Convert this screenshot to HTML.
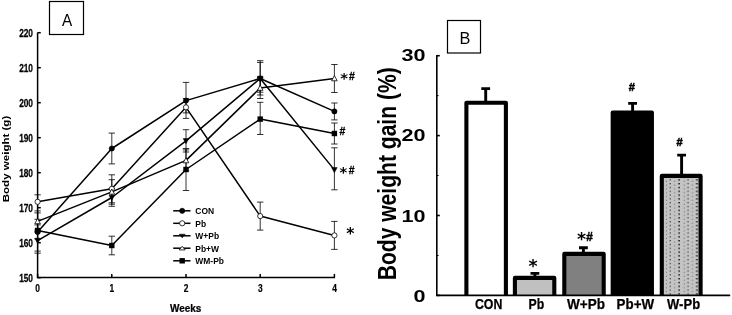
<!DOCTYPE html><html><head><meta charset="utf-8"><title>Figure</title><style>html,body{margin:0;padding:0;background:#fff}svg{display:block}text{font-family:"Liberation Sans","DejaVu Sans",sans-serif;fill:#000}text.st{font-family:"DejaVu Sans",sans-serif}</style></head><body>
<svg width="732" height="315" viewBox="0 0 732 315">
<rect width="732" height="315" fill="#fff"/>
<g stroke="#000" stroke-width="1.5" fill="none">
<path d="M37.6 32.39999999999999V277.5H335.00000000000006"/>
<path d="M37.6 277.7h3.2"/>
<path d="M37.6 242.7h3.2"/>
<path d="M37.6 207.7h3.2"/>
<path d="M37.6 172.7h3.2"/>
<path d="M37.6 137.7h3.2"/>
<path d="M37.6 102.69999999999999h3.2"/>
<path d="M37.6 67.69999999999999h3.2"/>
<path d="M37.6 32.69999999999999h3.2"/>
<path d="M37.6 277.7v-3.8"/>
<path d="M111.80000000000001 277.7v-3.8"/>
<path d="M186.0 277.7v-3.8"/>
<path d="M260.20000000000005 277.7v-3.8"/>
<path d="M334.40000000000003 277.7v-3.8"/>
</g>
<g font-size="10.4" font-weight="bold" text-anchor="end" stroke="#000" stroke-width="0.25">
<text transform="translate(33,281.7) scale(0.8,1)">150</text>
<text transform="translate(33,246.7) scale(0.8,1)">160</text>
<text transform="translate(33,211.7) scale(0.8,1)">170</text>
<text transform="translate(33,176.7) scale(0.8,1)">180</text>
<text transform="translate(33,141.7) scale(0.8,1)">190</text>
<text transform="translate(33,106.7) scale(0.8,1)">200</text>
<text transform="translate(33,71.7) scale(0.8,1)">210</text>
<text transform="translate(33,36.7) scale(0.8,1)">220</text>
</g>
<g font-size="10.5" font-weight="bold" text-anchor="middle" stroke="#000" stroke-width="0.2">
<text transform="translate(37.7,291.9) scale(0.8,1)">0</text>
<text transform="translate(111.9,291.9) scale(0.8,1)">1</text>
<text transform="translate(186.1,291.9) scale(0.8,1)">2</text>
<text transform="translate(260.3,291.9) scale(0.8,1)">3</text>
<text transform="translate(334.5,291.9) scale(0.8,1)">4</text>
</g>
<text transform="translate(185.7,312.4) scale(0.9,1)" font-size="11.1" font-weight="bold" text-anchor="middle" stroke="#000" stroke-width="0.25">Weeks</text>
<text transform="translate(8.8,159) rotate(-90) scale(1.36,1)" font-size="8.5" font-weight="bold" text-anchor="middle">Body weight (g)</text>
<g stroke="#000" stroke-width="0.8" fill="none">
<path d="M37.6 224.9V238.9M34.4 224.9h6.4M34.4 238.9h6.4"/>
<path d="M111.8 133.1V163.9M108.6 133.1h6.4M108.6 163.9h6.4"/>
<path d="M186.0 82.4V112.9M182.8 82.4h6.4M182.8 112.9h6.4"/>
<path d="M260.2 60.7V92.2M257.0 60.7h6.4M257.0 92.2h6.4"/>
<path d="M334.4 103.0V119.9M331.2 103.0h6.4M331.2 119.9h6.4"/>
<path d="M37.6 194.8V219.3M34.4 194.8h6.4M34.4 219.3h6.4"/>
<path d="M111.8 174.8V202.8M108.6 174.8h6.4M108.6 202.8h6.4"/>
<path d="M186.0 98.5V118.4M182.8 98.5h6.4M182.8 118.4h6.4"/>
<path d="M260.2 202.1V230.1M257.0 202.1h6.4M257.0 230.1h6.4"/>
<path d="M334.4 221.4V249.4M331.2 221.4h6.4M331.2 249.4h6.4"/>
<path d="M37.6 230.1V251.1M34.4 230.1h6.4M34.4 251.1h6.4"/>
<path d="M111.8 188.8V206.3M108.6 188.8h6.4M108.6 206.3h6.4"/>
<path d="M186.0 129.7V152.0M182.8 129.7h6.4M182.8 152.0h6.4"/>
<path d="M260.2 62.4V95.0M257.0 62.4h6.4M257.0 95.0h6.4"/>
<path d="M334.4 147.8V189.8M331.2 147.8h6.4M331.2 189.8h6.4"/>
<path d="M37.6 210.9V231.9M34.4 210.9h6.4M34.4 231.9h6.4"/>
<path d="M111.8 179.7V204.2M108.6 179.7h6.4M108.6 204.2h6.4"/>
<path d="M186.0 149.9V170.9M182.8 149.9h6.4M182.8 170.9h6.4"/>
<path d="M260.2 77.5V98.5M257.0 77.5h6.4M257.0 98.5h6.4"/>
<path d="M334.4 64.5V92.5M331.2 64.5h6.4M331.2 92.5h6.4"/>
<path d="M37.6 212.9V253.2M34.4 212.9h6.4M34.4 253.2h6.4"/>
<path d="M111.8 236.2V254.8M108.6 236.2h6.4M108.6 254.8h6.4"/>
<path d="M186.0 148.5V190.5M182.8 148.5h6.4M182.8 190.5h6.4"/>
<path d="M260.2 102.3V134.5M257.0 102.3h6.4M257.0 134.5h6.4"/>
<path d="M334.4 123.0V144.0M331.2 123.0h6.4M331.2 144.0h6.4"/>
</g>
<g stroke="#000" stroke-width="1.5" fill="none" stroke-linejoin="round">
<polyline points="37.6,231.9 111.8,148.5 186.0,100.6 260.2,78.5 334.4,111.4"/>
<polyline points="37.6,201.8 111.8,188.8 186.0,107.3 260.2,216.1 334.4,235.4"/>
<polyline points="37.6,240.6 111.8,197.5 186.0,140.9 260.2,78.5 334.4,169.9"/>
<polyline points="37.6,221.4 111.8,191.9 186.0,160.4 260.2,88.0 334.4,78.5"/>
<polyline points="37.6,230.4 111.8,245.5 186.0,169.5 260.2,119.1 334.4,133.5"/>
</g>
<circle cx="37.6" cy="231.9" r="2.60" fill="#000" stroke="#000" stroke-width="0.6"/>
<circle cx="111.8" cy="148.5" r="2.60" fill="#000" stroke="#000" stroke-width="0.6"/>
<circle cx="186.0" cy="100.6" r="2.60" fill="#000" stroke="#000" stroke-width="0.6"/>
<circle cx="260.2" cy="78.5" r="2.60" fill="#000" stroke="#000" stroke-width="0.6"/>
<circle cx="334.4" cy="111.4" r="2.60" fill="#000" stroke="#000" stroke-width="0.6"/>
<circle cx="37.6" cy="201.8" r="2.60" fill="#fff" stroke="#000" stroke-width="0.8"/>
<circle cx="111.8" cy="188.8" r="2.60" fill="#fff" stroke="#000" stroke-width="0.8"/>
<circle cx="186.0" cy="107.3" r="2.60" fill="#fff" stroke="#000" stroke-width="0.8"/>
<circle cx="260.2" cy="216.1" r="2.60" fill="#fff" stroke="#000" stroke-width="0.8"/>
<circle cx="334.4" cy="235.4" r="2.60" fill="#fff" stroke="#000" stroke-width="0.8"/>
<path d="M34.8 238.3h5.60l-2.80 5.20z" fill="#000" stroke="#000" stroke-width="0.5"/>
<path d="M109.0 195.2h5.60l-2.80 5.20z" fill="#000" stroke="#000" stroke-width="0.5"/>
<path d="M183.2 138.6h5.60l-2.80 5.20z" fill="#000" stroke="#000" stroke-width="0.5"/>
<path d="M257.4 76.2h5.60l-2.80 5.20z" fill="#000" stroke="#000" stroke-width="0.5"/>
<path d="M331.6 167.6h5.60l-2.80 5.20z" fill="#000" stroke="#000" stroke-width="0.5"/>
<path d="M34.8 223.7h5.60l-2.80 -5.20z" fill="#fff" stroke="#000" stroke-width="0.8"/>
<path d="M109.0 194.2h5.60l-2.80 -5.20z" fill="#fff" stroke="#000" stroke-width="0.8"/>
<path d="M183.2 162.8h5.60l-2.80 -5.20z" fill="#fff" stroke="#000" stroke-width="0.8"/>
<path d="M257.4 90.3h5.60l-2.80 -5.20z" fill="#fff" stroke="#000" stroke-width="0.8"/>
<path d="M331.6 80.8h5.60l-2.80 -5.20z" fill="#fff" stroke="#000" stroke-width="0.8"/>
<rect x="34.9" y="227.8" width="5.40" height="5.40" fill="#000"/>
<rect x="109.1" y="242.8" width="5.40" height="5.40" fill="#000"/>
<rect x="183.3" y="166.8" width="5.40" height="5.40" fill="#000"/>
<rect x="257.5" y="116.4" width="5.40" height="5.40" fill="#000"/>
<rect x="331.7" y="130.8" width="5.40" height="5.40" fill="#000"/>
<g font-size="9.8" font-weight="bold">
<path d="M173.2 210.8h17.3" stroke="#000" stroke-width="1.5"/>
<circle cx="182.2" cy="210.8" r="2.60" fill="#000" stroke="#000" stroke-width="0.6"/>
<text transform="translate(195.3,214.3) scale(0.865,1)">CON</text>
<path d="M173.2 223.3h17.3" stroke="#000" stroke-width="1.5"/>
<circle cx="182.2" cy="223.3" r="2.60" fill="#fff" stroke="#000" stroke-width="0.8"/>
<text transform="translate(195.3,226.8) scale(0.865,1)">Pb</text>
<path d="M173.2 235.8h17.3" stroke="#000" stroke-width="1.5"/>
<path d="M179.2 234.2h6l-3 3.6z" fill="#000" stroke="#000" stroke-width="0.5"/>
<text transform="translate(195.3,239.3) scale(0.865,1)">W+Pb</text>
<path d="M173.2 248.2h17.3" stroke="#000" stroke-width="1.5"/>
<path d="M179.2 249.9h6l-3 -3.6z" fill="#fff" stroke="#000" stroke-width="0.8"/>
<text transform="translate(195.3,251.7) scale(0.865,1)">Pb+W</text>
<path d="M173.2 260.8h17.3" stroke="#000" stroke-width="1.5"/>
<rect x="179.5" y="258.1" width="5.40" height="5.40" fill="#000"/>
<text transform="translate(195.3,264.3) scale(0.865,1)">WM-Pb</text>
</g>
<text x="340.16" y="83" class="st" font-weight="bold" font-size="14.78">*</text><text transform="translate(349.07,79.60) scale(1.0,1)" style="font-weight:bold;stroke:#000;stroke-width:0.3px" font-size="10.45">#</text>
<text transform="translate(339.57,135.20) scale(1.0,1)" style="font-weight:bold;stroke:#000;stroke-width:0.3px" font-size="10.45">#</text>
<text x="339.56" y="177" class="st" font-weight="bold" font-size="14.78">*</text><text transform="translate(348.77,173.90) scale(1.0,1)" style="font-weight:bold;stroke:#000;stroke-width:0.3px" font-size="10.45">#</text>
<text x="346.13" y="239" class="st" font-weight="bold" font-size="15.65">*</text>
<rect x="49.5" y="1.5" width="34" height="33" fill="#fff" stroke="#000" stroke-width="1.2"/>
<text transform="translate(67.2,25.7) scale(0.9,1)" font-size="17" text-anchor="middle">A</text>
<defs><pattern id="dots" width="17.8" height="7.6" patternUnits="userSpaceOnUse" x="664" y="179.2"><rect width="17.8" height="7.6" fill="#c4c4c4"/><g fill="#6a6a6a"><rect x="1.9" y="5.4" width="1" height="1.1"/><rect x="1.9" y="1.6" width="1" height="1.1"/><rect x="10.1" y="1.6" width="1" height="1.1"/><rect x="10.1" y="5.4" width="1" height="1.1"/></g><g fill="#3a3a3a"><rect x="5.6" y="0" width="1.2" height="1.3"/><rect x="5.6" y="3.8" width="1.2" height="1.3"/></g><g fill="#000"><rect x="14.4" y="0" width="1.4" height="1.4"/><rect x="14.4" y="3.8" width="1.4" height="1.4"/></g></pattern></defs>
<path d="M485.7 102.8V88.6M481.3 88.6h8.8" stroke="#000" stroke-width="2.9" fill="none"/>
<path d="M466.4 295.4V102.8H505.9V295.4" fill="#fff" stroke="#000" stroke-width="4.1" stroke-linejoin="round"/>
<text x="474.9" y="309.3" font-size="14.3" font-weight="bold" stroke="#000" stroke-width="0.25" textLength="27.4" lengthAdjust="spacingAndGlyphs">CON</text>
<path d="M534.9 277.9V273.4M530.5 273.4h8.8" stroke="#000" stroke-width="2.9" fill="none"/>
<path d="M514.9 295.4V277.9H554.3V295.4" fill="#c0c0c0" stroke="#000" stroke-width="4.1" stroke-linejoin="round"/>
<text x="528.6" y="309.3" font-size="14.3" font-weight="bold" stroke="#000" stroke-width="0.25" textLength="15.7" lengthAdjust="spacingAndGlyphs">Pb</text>
<path d="M583.4 253.9V247.7M579.0 247.7h8.8" stroke="#000" stroke-width="2.9" fill="none"/>
<path d="M564.3 295.4V253.9H603.7V295.4" fill="#808080" stroke="#000" stroke-width="4.1" stroke-linejoin="round"/>
<text x="567.1" y="309.3" font-size="14.3" font-weight="bold" stroke="#000" stroke-width="0.25" textLength="38.0" lengthAdjust="spacingAndGlyphs">W+Pb</text>
<path d="M632.6 112.6V103.4M628.2 103.4h8.8" stroke="#000" stroke-width="2.9" fill="none"/>
<path d="M612.7 295.4V112.6H651.9V295.4" fill="#000" stroke="#000" stroke-width="4.1" stroke-linejoin="round"/>
<text x="616.6" y="309.3" font-size="14.3" font-weight="bold" stroke="#000" stroke-width="0.25" textLength="37.5" lengthAdjust="spacingAndGlyphs">Pb+W</text>
<path d="M681.6 175.9V155.1M677.2 155.1h8.8" stroke="#000" stroke-width="2.9" fill="none"/>
<path d="M661.8 295.4V175.9H700.6V295.4" fill="url(#dots)" stroke="#000" stroke-width="4.1" stroke-linejoin="round"/>
<text x="667.1" y="309.3" font-size="14.3" font-weight="bold" stroke="#000" stroke-width="0.25" textLength="33.0" lengthAdjust="spacingAndGlyphs">W-Pb</text>
<g stroke="#000" stroke-width="1.6" fill="none">
<path d="M436.8 55.09999999999996V295.4H730.2"/>
<path d="M436.8 295.4h3"/>
<path d="M436.8 215.49999999999997h3"/>
<path d="M436.8 135.59999999999997h3"/>
<path d="M436.8 55.69999999999996h3"/>
<path d="M436.8 255.45h1.8" stroke-width="1"/>
<path d="M436.8 175.54999999999995h1.8" stroke-width="1"/>
<path d="M436.8 95.64999999999998h1.8" stroke-width="1"/>
</g>
<g font-size="17" font-weight="bold" text-anchor="end">
<text transform="translate(425.6,301.6) scale(1.27,1)">0</text>
<text transform="translate(425.6,221.5) scale(1.27,1)">10</text>
<text transform="translate(425.6,141.3) scale(1.27,1)">20</text>
<text transform="translate(425.6,61.1) scale(1.27,1)">30</text>
</g>
<text transform="translate(396.0,280.3) rotate(-90) scale(0.843,1)" font-size="25" font-weight="bold" text-anchor="start">Body weight gain (%)</text>
<text x="528.58" y="272" class="st" font-weight="bold" font-size="17.39">*</text>
<text x="576.88" y="245" class="st" font-weight="bold" font-size="17.39">*</text><text transform="translate(586.20,240.57) scale(0.95,1)" style="font-weight:bold;stroke:#000;stroke-width:0.5px" font-size="12.39">#</text>
<text transform="translate(628.80,90.62) scale(0.95,1)" style="font-weight:bold;stroke:#000;stroke-width:0.5px" font-size="11.64">#</text>
<text transform="translate(676.40,146.02) scale(0.95,1)" style="font-weight:bold;stroke:#000;stroke-width:0.5px" font-size="11.64">#</text>
<rect x="447.5" y="20.5" width="33" height="32.5" fill="#fff" stroke="#000" stroke-width="1.2"/>
<text x="464.9" y="44.2" font-size="16.3" text-anchor="middle">B</text>
</svg></body></html>
